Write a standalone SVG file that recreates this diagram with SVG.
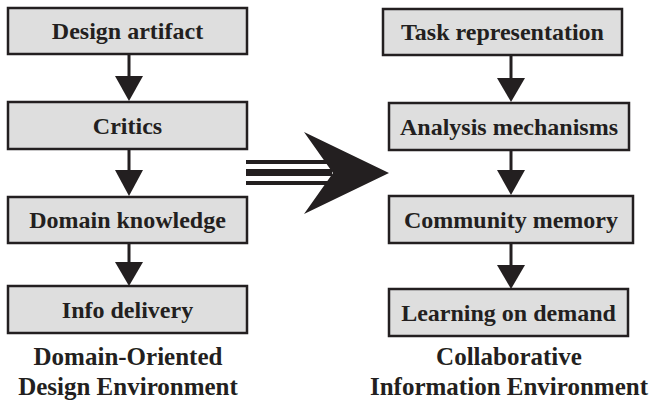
<svg xmlns="http://www.w3.org/2000/svg" width="649" height="403" viewBox="0 0 649 403">
<defs>
<style>
.box{fill:#dedede;stroke:#231f20;stroke-width:2.5}
.lbl{font-family:"Liberation Serif","Times New Roman",serif;font-weight:bold;font-size:24px;fill:#231f20;text-anchor:middle}
.cap{font-family:"Liberation Serif","Times New Roman",serif;font-weight:bold;font-size:25px;fill:#231f20;text-anchor:middle}
.ln{stroke:#231f20;stroke-width:3;fill:none}
.hd{fill:#231f20}
</style>
</defs>
<rect width="649" height="403" fill="#ffffff"/>
<g id="connectors">
  <line class="ln" x1="129" y1="54" x2="129" y2="78"/>
  <polygon class="hd" points="115,76 143,76 129,101"/>
  <line class="ln" x1="129" y1="149" x2="129" y2="172"/>
  <polygon class="hd" points="115,170 143,170 129,196"/>
  <line class="ln" x1="129" y1="243" x2="129" y2="264"/>
  <polygon class="hd" points="115,262 143,262 129,286"/>
  <line class="ln" x1="511" y1="55" x2="511" y2="80"/>
  <polygon class="hd" points="497,78 525,78 511,102"/>
  <line class="ln" x1="511" y1="150" x2="511" y2="172"/>
  <polygon class="hd" points="497,170 525,170 511,195"/>
  <line class="ln" x1="511" y1="243" x2="511" y2="267"/>
  <polygon class="hd" points="497,265 525,265 511,289"/>
  <g id="big-arrow">
    <rect class="hd" x="246" y="160" width="86" height="4"/>
    <rect class="hd" x="246" y="169" width="86" height="7"/>
    <rect class="hd" x="246" y="181" width="86" height="4"/>
    <polygon class="hd" points="304,132 389,173 304,214 333,173"/>
  </g>
</g>
<g id="design-artifact"><rect class="box" x="8" y="8" width="239" height="46"/><text class="lbl" x="127.5" y="39">Design artifact</text></g>
<g id="critics"><rect class="box" x="8" y="102" width="239" height="47"/><text class="lbl" x="127.5" y="133.5">Critics</text></g>
<g id="domain-knowledge"><rect class="box" x="8" y="197" width="239" height="46"/><text class="lbl" x="127.5" y="228">Domain knowledge</text></g>
<g id="info-delivery"><rect class="box" x="8" y="286" width="239" height="47"/><text class="lbl" x="127.5" y="317.5">Info delivery</text></g>
<g id="task-representation"><rect class="box" x="383" y="9" width="239" height="46"/><text class="lbl" x="502.5" y="40">Task representation</text></g>
<g id="analysis-mechanisms"><rect class="box" x="389" y="103" width="240" height="47"/><text class="lbl" x="509" y="134.5">Analysis mechanisms</text></g>
<g id="community-memory"><rect class="box" x="389" y="196" width="244" height="47"/><text class="lbl" x="511" y="227.5">Community memory</text></g>
<g id="learning-on-demand"><rect class="box" x="389" y="289" width="239" height="47"/><text class="lbl" x="508.5" y="320.5">Learning on demand</text></g>
<g id="caption-left"><text class="cap" x="128" y="365">Domain-Oriented</text><text class="cap" x="128" y="395">Design Environment</text></g>
<g id="caption-right"><text class="cap" x="509" y="365">Collaborative</text><text class="cap" x="509" y="395">Information Environment</text></g>
</svg>
